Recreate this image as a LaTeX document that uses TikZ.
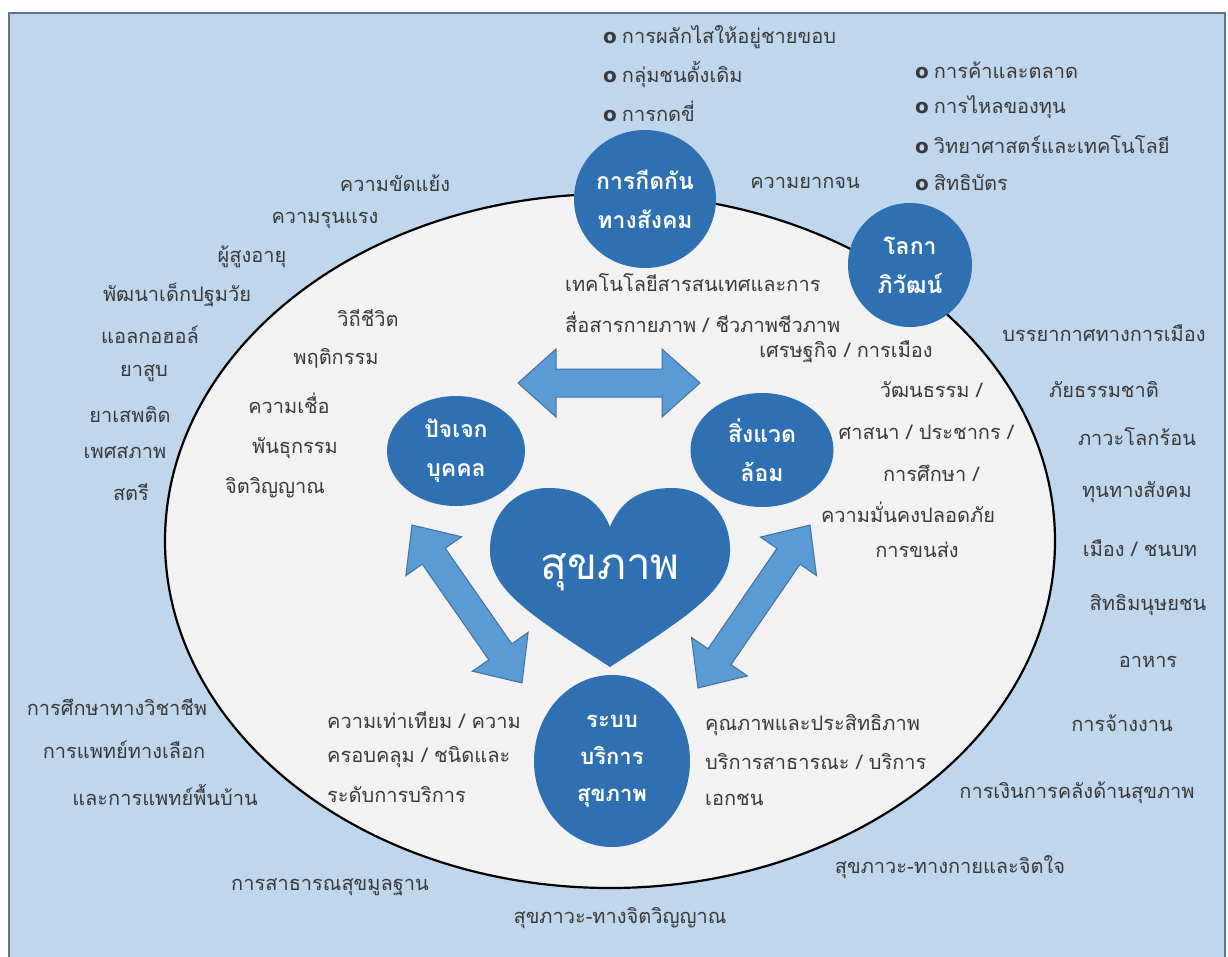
\documentclass[tikz,border=0pt]{standalone}
\usepackage{fontspec}
\newfontfamily\thai[Script=Thai]{Loma}
\newfontfamily\latinb{DejaVu Sans}
\usetikzlibrary{shapes.geometric}
\definecolor{bgblue}{HTML}{C0D6EC}
\definecolor{framec}{HTML}{5F7586}
\definecolor{ellfill}{HTML}{F2F2F2}
\definecolor{dblue}{HTML}{2E70B2}
\definecolor{arrfill}{HTML}{5B9BD5}
\definecolor{arrline}{HTML}{41719C}
\definecolor{txt}{HTML}{3A3A3A}
\tikzset{
  lbl/.style={font=\thai\fontsize{20}{22}\selectfont, text=txt, inner sep=0pt},
  circlbl/.style={ellipse, fill=dblue, draw=none, inner sep=0pt, text=white, align=center,
     font=\thai\bfseries\fontsize{23}{39}\selectfont},
  arrst/.style={fill=arrfill, draw=arrline, line width=1pt, line join=miter},
  dblarr/.pic={
    \filldraw[arrst] (0,0) -- (38,-34) -- (38,-14) -- (#1-38,-14) -- (#1-38,-34) -- (#1,0)
      -- (#1-38,34) -- (#1-38,14) -- (38,14) -- (38,34) -- cycle;
  }
}
\newcommand{\bul}{{\latinb\bfseries o}\hspace{5pt}}
\begin{document}
\begin{tikzpicture}[x=1pt,y=-1pt]
\useasboundingbox (0,0) rectangle (1228,956);
\fill[white] (0,0) rectangle (1228,956);
\draw[fill=bgblue, draw=framec, line width=2.5pt] (9,13) rectangle (1225,980);
\draw[fill=ellfill, draw=black, line width=2.2pt] (610,541) ellipse [x radius=445pt, y radius=347pt];

% main circles
\node[circlbl, minimum width=142pt, minimum height=138pt] (soc) at (645,199) {การกีดกัน\\ทางสังคม};
\node[circlbl, minimum width=124pt, minimum height=124pt] (glob) at (910,265) {โลกา\\ภิวัฒน์};
\node[circlbl, minimum width=138pt, minimum height=110pt] (ind) at (456,451) {ปัจเจก\\บุคคล};
\node[circlbl, minimum width=143pt, minimum height=114pt] (env) at (762,450) {สิ่งแวด\\ล้อม};
\node[circlbl, minimum width=156pt, minimum height=172pt, font=\thai\bfseries\fontsize{22}{37}\selectfont] (hs) at (612,761) {ระบบ\\บริการ\\สุขภาพ};

% heart
\fill[dblue] (610,527) .. controls (622,497) and (645,488) .. (672,488)
  .. controls (708,488) and (731,517) .. (730,552)
  .. controls (729,590) and (690,615) .. (610,667)
  .. controls (530,615) and (491,590) .. (490,552)
  .. controls (489,517) and (512,488) .. (548,488)
  .. controls (575,488) and (598,497) .. (610,527) -- cycle;
\node[text=white, inner sep=0pt, font=\thai\fontsize{44}{48}\selectfont] (heart) at (610,572) {สุขภาพ};

% block arrows
\coordinate (h1) at (518,383);
\coordinate (l1) at (412,525);
\coordinate (r1) at (810,525);
\pic at (h1) {dblarr=182};
\pic[rotate=-55.15] at (l1) {dblarr=192.5};
\pic[rotate=-124.5] at (r1) {dblarr=197.8};

% top bullets
\node[lbl, anchor=west] (b1) at (603,37) {\bul การผลักไสให้อยู่ชายขอบ};
\node[lbl, anchor=west] (b2) at (603,75) {\bul กลุ่มชนดั้งเดิม};
\node[lbl, anchor=west] (b3) at (603,111) {\bul การกดขี่};
\node[lbl, anchor=west] (c1) at (915,70) {\bul การค้าและตลาด};
\node[lbl, anchor=west] (c2) at (915,107) {\bul การไหลของทุน};
\node[lbl, anchor=west] (c3) at (915,145) {\bul วิทยาศาสตร์และเทคโนโลยี};
\node[lbl, anchor=west] (c4) at (915,183) {\bul สิทธิบัตร};

% left outer
\node[lbl] (o1) at (395,183) {ความขัดแย้ง};
\node[lbl] (o2) at (325,220) {ความรุนแรง};
\node[lbl] (o3) at (252,257) {ผู้สูงอายุ};
\node[lbl] (o4) at (177,295) {พัฒนาเด็กปฐมวัย};
\node[lbl] (o5) at (150,335) {แอลกอฮอล์};
\node[lbl] (o6) at (144,373) {ยาสูบ};
\node[lbl] (o7) at (130,415) {ยาเสพติด};
\node[lbl] (o8) at (125,453) {เพศสภาพ};
\node[lbl] (o9) at (131,492) {สตรี};

% inner left
\node[lbl] (i1) at (368,318) {วิถีชีวิต};
\node[lbl] (i2) at (336,358) {พฤติกรรม};
\node[lbl] (i3) at (289,403) {ความเชื่อ};
\node[lbl] (i4) at (295,448) {พันธุกรรม};
\node[lbl] (i5) at (275,488) {จิตวิญญาณ};

% top
\node[lbl] (p1) at (805,183) {ความยากจน};
\node[lbl, anchor=west] (t1) at (565,283) {เทคโนโลยีสารสนเทศและการ};
\node[lbl, anchor=west] (t2) at (565,322) {สื่อสารกายภาพ / ชีวภาพชีวภาพ};

% inner right
\node[lbl] (e1) at (846,352) {เศรษฐกิจ / การเมือง};
\node[lbl] (e2) at (931,390) {วัฒนธรรม /};
\node[lbl] (e3) at (926,432) {ศาสนา / ประชากร /};
\node[lbl] (e4) at (931,473) {การศึกษา /};
\node[lbl] (e5) at (908,512) {ความมั่นคงปลอดภัย};
\node[lbl] (e6) at (917,550) {การขนส่ง};

% right outer
\node[lbl] (r01) at (1104,333) {บรรยากาศทางการเมือง};
\node[lbl] (r02) at (1104,390) {ภัยธรรมชาติ};
\node[lbl] (r03) at (1137,437) {ภาวะโลกร้อน};
\node[lbl] (r04) at (1137,492) {ทุนทางสังคม};
\node[lbl] (r05) at (1140,548) {เมือง / ชนบท};
\node[lbl] (r06) at (1148,605) {สิทธิมนุษยชน};
\node[lbl] (r07) at (1148,662) {อาหาร};
\node[lbl] (r08) at (1122,723) {การจ้างงาน};
\node[lbl] (r09) at (1077,793) {การเงินการคลังด้านสุขภาพ};
\node[lbl] (r10) at (950,867) {สุขภาวะ-ทางกายและจิตใจ};

% bottom
\node[lbl] (s1) at (620,918) {สุขภาวะ-ทางจิตวิญญาณ};
\node[lbl] (s2) at (330,887) {การสาธารณสุขมูลฐาน};

% left bottom outer
\node[lbl] (m1) at (117,707) {การศึกษาทางวิชาชีพ};
\node[lbl] (m2) at (124,750) {การแพทย์ทางเลือก};
\node[lbl] (m3) at (165,795) {และการแพทย์พื้นบ้าน};

% inner bottom
\node[lbl, anchor=west] (q1) at (327,720) {ความเท่าเทียม / ความ};
\node[lbl, anchor=west] (q2) at (327,757) {ครอบคลุม / ชนิดและ};
\node[lbl, anchor=west] (q3) at (327,795) {ระดับการบริการ};
\node[lbl, anchor=west] (k1) at (705,725) {คุณภาพและประสิทธิภาพ};
\node[lbl, anchor=west] (k2) at (705,762) {บริการสาธารณะ / บริการ};
\node[lbl, anchor=west] (k3) at (705,800) {เอกชน};
\end{tikzpicture}
\end{document}
